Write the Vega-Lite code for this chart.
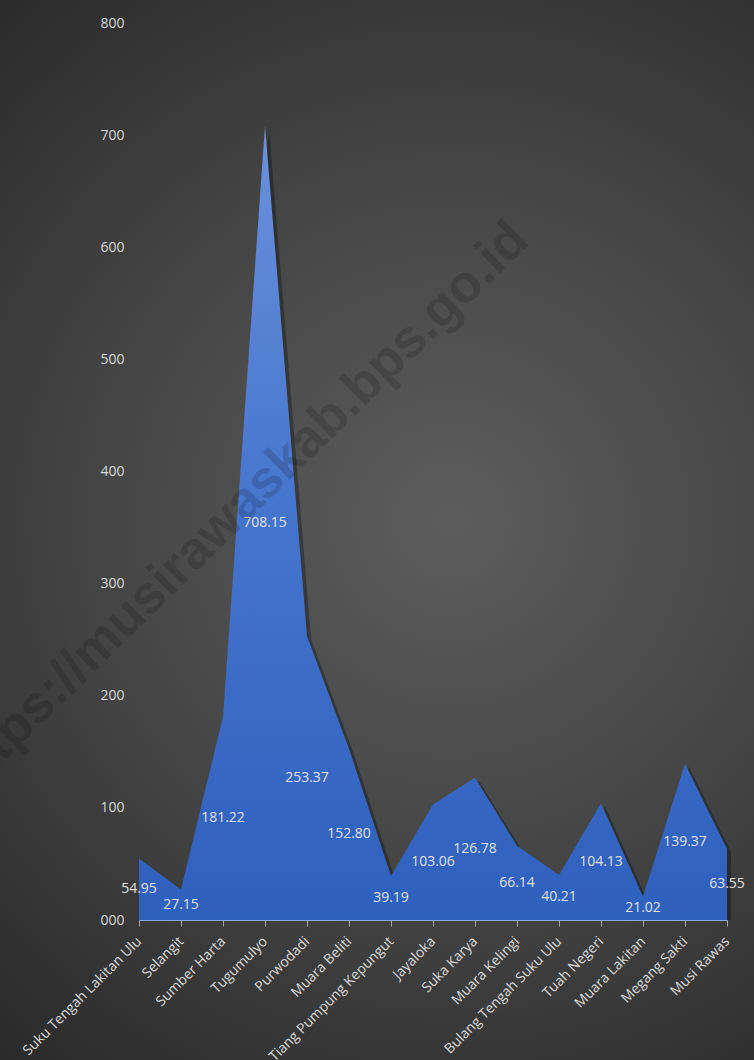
{
  "$schema": "https://vega.github.io/schema/vega-lite/v6.json",
  "width": 754,
  "height": 1060,
  "autosize": {"type": "none"},
  "padding": 0,
  "background": "#2a2a2a",
  "config": {
    "view": {"stroke": null},
    "font": "Open Sans"
  },
  "data": {
    "values": [
      {"kecamatan": "Suku Tengah Lakitan Ulu", "value": 54.95},
      {"kecamatan": "Selangit", "value": 27.15},
      {"kecamatan": "Sumber Harta", "value": 181.22},
      {"kecamatan": "Tugumulyo", "value": 708.15},
      {"kecamatan": "Purwodadi", "value": 253.37},
      {"kecamatan": "Muara Beliti", "value": 152.80},
      {"kecamatan": "Tiang Pumpung Kepungut", "value": 39.19},
      {"kecamatan": "Jayaloka", "value": 103.06},
      {"kecamatan": "Suka Karya", "value": 126.78},
      {"kecamatan": "Muara Kelingi", "value": 66.14},
      {"kecamatan": "Bulang Tengah Suku Ulu", "value": 40.21},
      {"kecamatan": "Tuah Negeri", "value": 104.13},
      {"kecamatan": "Muara Lakitan", "value": 21.02},
      {"kecamatan": "Megang Sakti", "value": 139.37},
      {"kecamatan": "Musi Rawas", "value": 63.55}
    ]
  },
  "encoding": {
    "x": {
      "field": "kecamatan",
      "type": "nominal",
      "sort": null,
      "scale": {"type": "point", "padding": 0, "range": [139, 727]},
      "axis": {
        "title": null,
        "offset": -140,
        "zindex": 1,
        "domain": true,
        "domainColor": "#8fa8d8",
        "domainWidth": 1.2,
        "ticks": true,
        "tickSize": 6,
        "tickColor": "#a6a6a6",
        "labelAngle": -45,
        "labelAlign": "right",
        "labelBaseline": "middle",
        "labelPadding": 13,
        "labelFontSize": 14,
        "labelColor": "#d9d9d9",
        "labelFont": "Open Sans",
        "grid": false
      }
    }
  },
  "layer": [
    {
      "data": {"values": [{"bg": 1}]},
      "mark": {
        "type": "rect",
        "color": {
          "gradient": "radial",
          "x1": 0.57, "y1": 0.49, "r1": 0,
          "x2": 0.57, "y2": 0.49, "r2": 0.72,
          "stops": [
            {"offset": 0, "color": "#5d5d5d"},
            {"offset": 0.5, "color": "#434343"},
            {"offset": 1, "color": "#252525"}
          ]
        }
      },
      "encoding": {"x": null}
    },
    {
      "mark": {"type": "area", "color": "#000000", "opacity": 0.3, "xOffset": 4, "yOffset": 3, "y2Offset": 0},
      "encoding": {
        "y": {
          "field": "value",
          "type": "quantitative",
          "scale": {"domain": [0, 800], "range": [920, 23], "nice": false},
          "axis": {
            "title": null,
            "values": [0, 100, 200, 300, 400, 500, 600, 700, 800],
            "labelExpr": "datum.value == 0 ? '000' : datum.label",
            "offset": -126,
            "zindex": 1,
            "domain": false,
            "ticks": false,
            "grid": false,
            "labelPadding": 2,
            "labelFontSize": 14,
            "labelColor": "#d9d9d9",
            "labelFont": "Open Sans"
          }
        },
        "y2": {"datum": 0}
      }
    },
    {
      "mark": {
        "type": "area",
        "color": {
          "gradient": "linear",
          "x1": 0, "y1": 0, "x2": 0, "y2": 1,
          "stops": [
            {"offset": 0, "color": "#6a91dc"},
            {"offset": 0.5, "color": "#4574cc"},
            {"offset": 1, "color": "#2e60bd"}
          ]
        }
      },
      "encoding": {
        "y": {
          "field": "value",
          "type": "quantitative",
          "axis": {
            "title": null,
            "values": [0, 100, 200, 300, 400, 500, 600, 700, 800],
            "labelExpr": "datum.value == 0 ? '000' : datum.label",
            "offset": -126,
            "zindex": 1,
            "domain": false,
            "ticks": false,
            "grid": false,
            "labelPadding": 2,
            "labelFontSize": 14,
            "labelColor": "#d9d9d9",
            "labelFont": "Open Sans"
          }
        },
        "y2": {"datum": 0}
      }
    },
    {
      "transform": [{"calculate": "datum.value / 2", "as": "mid"}],
      "mark": {"type": "text", "fontSize": 14, "color": "#e0e0e0", "font": "Open Sans", "align": "center", "baseline": "middle"},
      "encoding": {
        "y": {
          "field": "mid",
          "type": "quantitative",
          "axis": {
            "title": null,
            "values": [0, 100, 200, 300, 400, 500, 600, 700, 800],
            "labelExpr": "datum.value == 0 ? '000' : datum.label",
            "offset": -126,
            "zindex": 1,
            "domain": false,
            "ticks": false,
            "grid": false,
            "labelPadding": 2,
            "labelFontSize": 14,
            "labelColor": "#d9d9d9",
            "labelFont": "Open Sans"
          }
        },
        "text": {"field": "value", "type": "quantitative", "format": ".2f"}
      }
    },
    {
      "data": {"values": [{"wm": "https://musirawaskab.bps.go.id"}]},
      "mark": {"type": "text", "fontSize": 53, "fontWeight": "bold", "font": "Liberation Sans", "angle": -44.5, "color": "#000000", "opacity": 0.15, "align": "center", "baseline": "middle", "dx": 20},
      "encoding": {
        "x": {"datum": "Sumber Harta"},
        "y": {"datum": 354},
        "text": {"field": "wm", "type": "nominal"}
      }
    }
  ]
}
